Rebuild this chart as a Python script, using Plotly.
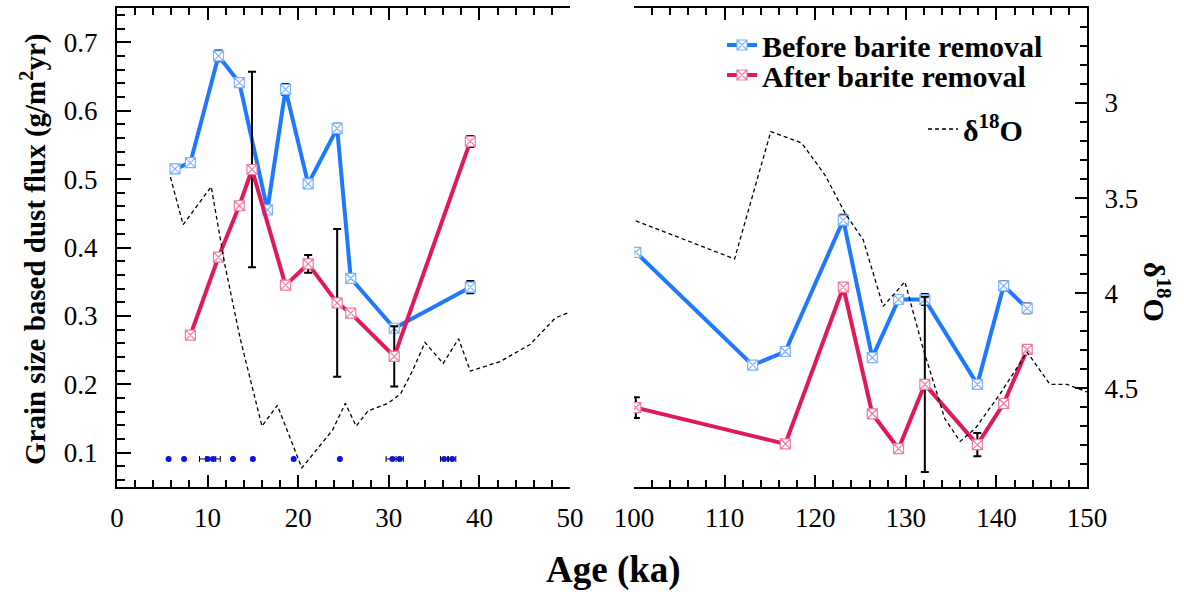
import numpy as np
import plotly.graph_objects as go

# ---------------- data ----------------
# Left panel (0-50 ka)
ageL_before = [6.4, 8.1, 11.2, 13.5, 16.6, 18.6, 21.1, 24.3, 25.8, 30.6, 39.0]
fluxL_before = [0.515, 0.524, 0.680, 0.641, 0.455, 0.631, 0.493, 0.574, 0.355, 0.282, 0.342]
errL_before = [0.006, 0.006, 0.008, 0.006, 0.004, 0.008, 0.004, 0.007, 0.005, 0.004, 0.009]

ageL_after = [8.1, 11.2, 13.5, 14.9, 18.6, 21.1, 24.3, 25.8, 30.6, 39.0]
fluxL_after = [0.272, 0.386, 0.461, 0.514, 0.345, 0.376, 0.319, 0.304, 0.241, 0.555]
errL_after = [0.003, 0.004, 0.004, 0.143, 0.005, 0.013, 0.108, 0.004, 0.044, 0.008]

# Right panel (100-150 ka)
ageR_before = [100.2, 113.1, 116.7, 123.1, 126.3, 129.2, 132.1, 137.9, 140.8, 143.4]
fluxR_before = [0.393, 0.228, 0.248, 0.440, 0.239, 0.324, 0.324, 0.200, 0.344, 0.311]
errR_before = [0.006, 0.003, 0.003, 0.008, 0.006, 0.004, 0.008, 0.003, 0.007, 0.007]

ageR_after = [100.2, 116.7, 123.1, 126.3, 129.2, 132.1, 137.9, 140.8, 143.4]
fluxR_after = [0.166, 0.113, 0.342, 0.157, 0.106, 0.200, 0.112, 0.172, 0.251]
errR_after = [0.015, 0.005, 0.005, 0.003, 0.003, 0.128, 0.017, 0.004, 0.006]

# delta 18O record
d18_ageL = [5.9, 7.3, 10.4, 11.9, 13.6, 16.0, 17.7, 20.4, 23.8, 25.2, 26.4, 27.7,
            29.9, 31.3, 32.6, 34.0, 36.0, 37.7, 39.0, 42.3, 45.6, 48.4, 50.0]
d18_L = [3.39, 3.64, 3.44, 3.85, 4.24, 4.70, 4.59, 4.92, 4.72, 4.58, 4.70, 4.62,
         4.58, 4.53, 4.41, 4.26, 4.37, 4.24, 4.41, 4.36, 4.27, 4.13, 4.10]
d18_ageR = [100.2, 111.1, 115.1, 118.5, 121.1, 123.3, 125.3, 127.5, 129.9, 131.9,
            134.3, 136.0, 137.7, 140.4, 143.4, 145.9, 147.8, 150.0]
d18_R = [3.62, 3.82, 3.15, 3.21, 3.38, 3.58, 3.72, 4.07, 3.94, 4.29,
         4.66, 4.78, 4.71, 4.53, 4.31, 4.48, 4.48, 4.52]

# age control points
ctrl_age = [5.7, 7.4, 10.0, 10.6, 12.8, 15.0, 19.5, 24.6, 30.4, 31.2, 36.1, 37.0]
ctrl_flux = [0.091] * len(ctrl_age)
ctrl_err = [0, 0, 0.9, 0.8, 0, 0, 0, 0, 0.7, 0.4, 0.4, 0.4]

# ---------------- style ----------------
BLUE = '#1f78ff'
RED = '#e0195a'
SERIF = 'Liberation Serif'
W, H = 1184, 592
xL = [117 / W, 570 / W]
xR = [634 / W, 1087 / W]
ydom = [1 - 487 / H, 1 - 8 / H]

def errs(arr):
    return dict(type='data', array=arr, color='black', thickness=2, width=4)

mk_blue = dict(symbol='square-x', size=10, color='white', line=dict(color='#7fb2ff', width=1.2))
mk_red = dict(symbol='square-x', size=10, color='white', line=dict(color='#f07aa0', width=1.2))

fig = go.Figure()

# delta18O lines
fig.add_trace(go.Scatter(x=d18_ageL, y=d18_L, xaxis='x', yaxis='y4', mode='lines',
                         line=dict(color='black', width=1.3, dash='4px,3px'),
                         name='<b>δ<sup>18</sup>O</b>', legend='legend3', showlegend=True))
fig.add_trace(go.Scatter(x=d18_ageR, y=d18_R, xaxis='x2', yaxis='y3', mode='lines',
                         line=dict(color='black', width=1.3, dash='4px,3px'),
                         showlegend=False))

# before barite removal
fig.add_trace(go.Scatter(x=ageL_before, y=fluxL_before, xaxis='x', yaxis='y',
                         mode='lines+markers', line=dict(color=BLUE, width=4),
                         marker=mk_blue, error_y=errs(errL_before),
                         name='Before barite removal', legend='legend'))
fig.add_trace(go.Scatter(x=ageR_before, y=fluxR_before, xaxis='x2', yaxis='y2',
                         mode='lines+markers', line=dict(color=BLUE, width=4),
                         marker=mk_blue, error_y=errs(errR_before), showlegend=False))
# after barite removal
fig.add_trace(go.Scatter(x=ageL_after, y=fluxL_after, xaxis='x', yaxis='y',
                         mode='lines+markers', line=dict(color=RED, width=4),
                         marker=mk_red, error_y=errs(errL_after),
                         name='After barite removal', legend='legend2'))
fig.add_trace(go.Scatter(x=ageR_after, y=fluxR_after, xaxis='x2', yaxis='y2',
                         mode='lines+markers', line=dict(color=RED, width=4),
                         marker=mk_red, error_y=errs(errR_after), showlegend=False))

# age control points
fig.add_trace(go.Scatter(x=ctrl_age, y=ctrl_flux, xaxis='x', yaxis='y', mode='markers',
                         marker=dict(color='#0a14e6', size=6),
                         error_x=dict(type='data', array=ctrl_err, color='black',
                                      thickness=1, width=3),
                         showlegend=False))

tickfont = dict(family=SERIF, size=27, color='black')
xcommon = dict(showline=True, linewidth=2, linecolor='black', mirror='ticks',
               ticks='inside', ticklen=12, tickwidth=2, tickcolor='black',
               dtick=10, tick0=0, showgrid=False, zeroline=False, automargin=False,
               tickfont=tickfont, ticklabelstandoff=6,
               minor=dict(ticks='inside', ticklen=7, tickwidth=1.5, dtick=2,
                          tickcolor='black', showgrid=False))

legfont = dict(family=SERIF, size=30, color='black', weight='bold')

fig.update_layout(
    width=W, height=H, margin=dict(l=0, r=0, t=0, b=0),
    paper_bgcolor='white', plot_bgcolor='white',
    xaxis=dict(domain=xL, range=[0, 50], anchor='y', **xcommon),
    xaxis2=dict(domain=xR, range=[100, 150], anchor='y2', **xcommon),
    yaxis=dict(domain=ydom, range=[0.05, 0.75], anchor='x', showline=True,
               linewidth=2, linecolor='black', ticks='inside', ticklen=14,
               tickwidth=2, tickcolor='black', dtick=0.1, tick0=0,
               tickformat='.1f', showgrid=False, zeroline=False, automargin=False,
               tickfont=tickfont, ticklabelstandoff=12,
               minor=dict(ticks='inside', ticklen=8, tickwidth=1.5, dtick=0.02,
                          tickcolor='black', showgrid=False)),
    yaxis2=dict(domain=ydom, range=[0.05, 0.75], anchor='x2', visible=False,
                automargin=False),
    yaxis3=dict(overlaying='y2', anchor='x2', side='right', range=[5.02, 2.5],
                showline=True, linewidth=2, linecolor='black', ticks='inside',
                ticklen=12, tickwidth=2, tickcolor='black', automargin=False,
                tickvals=[3, 3.5, 4, 4.5], ticktext=['3', '3.5', '4', '4.5'],
                showgrid=False, zeroline=False, tickfont=tickfont,
                ticklabelstandoff=10,
                minor=dict(ticks='inside', ticklen=7, tickwidth=1.5,
                           tickvals=[round(v, 1) for v in np.arange(2.6, 5.0, 0.1)],
                           tickcolor='black', showgrid=False)),
    yaxis4=dict(overlaying='y', anchor='x', range=[5.02, 2.5], visible=False,
                automargin=False),
    legend=dict(x=722 / W, y=1 - 45 / H, xanchor='left', yanchor='middle',
                bgcolor='rgba(0,0,0,0)', font=legfont),
    legend2=dict(x=722 / W, y=1 - 75 / H, xanchor='left', yanchor='middle',
                 bgcolor='rgba(0,0,0,0)', font=legfont),
    legend3=dict(x=923 / W, y=1 - 129 / H, xanchor='left', yanchor='middle',
                 bgcolor='rgba(0,0,0,0)', font=legfont),
    annotations=[
        dict(text='<b>Grain size based dust flux (g/m<sup>2</sup>yr)</b>',
             x=33 / W, y=1 - 250 / H, xref='paper', yref='paper', showarrow=False,
             xanchor='center', yanchor='middle',
             textangle=-90, font=dict(family=SERIF, size=29, color='black')),
        dict(text='<b>Age (ka)</b>', x=613 / W, y=1 - 570 / H, xref='paper',
             yref='paper', showarrow=False, xanchor='center', yanchor='middle',
             font=dict(family=SERIF, size=37, color='black')),
        dict(text='<b>δ<sup>18</sup>O</b>', x=1157 / W, y=1 - 292 / H, xref='paper',
             yref='paper', showarrow=False, textangle=90,
             xanchor='center', yanchor='middle',
             font=dict(family=SERIF, size=30, color='black')),
    ],
)

fig.write_html('out.html', config={'displayModeBar': False})
